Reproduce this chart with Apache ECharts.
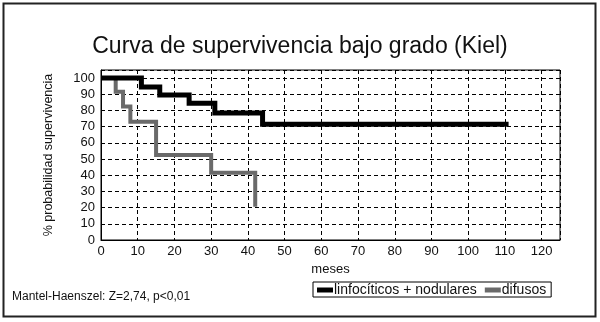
<!DOCTYPE html>
<html>
<head>
<meta charset="utf-8">
<script src="https://cdn.jsdelivr.net/npm/echarts@6/dist/echarts.min.js"></script>
<style>
html,body{margin:0;padding:0;background:#fff;}
#c{width:600px;height:322px;}
</style>
</head>
<body>
<div id="c"></div>
<script>
// Data
const titleText = 'Curva de supervivencia bajo grado (Kiel)';
const xName = 'meses';
const yName = '% probabilidad supervivencia';
const footnote = 'Mantel-Haenszel: Z=2,74, p<0,01';
const seriesNames = ['linfocíticos + nodulares', 'difusos'];

const lnTimes = [0, 11, 16, 24, 31, 44, 111];
const lnSurv  = [100, 94.5, 89.5, 84.5, 78.5, 71.5, 71.5];

const difTimes = [0, 4, 6, 8, 15, 30, 42];
const difSurv  = [100, 91.5, 82.5, 73, 52.5, 41.5, 20.5];

const xTicks = [0,10,20,30,40,50,60,70,80,90,100,110,120];
const yTicks = [0,10,20,30,40,50,60,70,80,90,100];

const toPairs = (t, s) => t.map((v, i) => [v, s[i]]);

const chart = echarts.init(document.getElementById('c'), null, {renderer: 'canvas'});
const font = 'Liberation Sans, Arial, Helvetica, sans-serif';
chart.setOption({
  animation: false,
  backgroundColor: '#fff',
  textStyle: {fontFamily: font},
  title: {
    text: titleText, left: 'center', top: 30,
    textStyle: {fontFamily: font, fontSize: 23, fontWeight: 'normal', color: '#111'}
  },
  grid: {left: 101, right: 40, top: 70, bottom: 82, show: true, borderColor: '#000', borderWidth: 1, backgroundColor: 'transparent'},
  xAxis: {
    type: 'value', min: 0, max: 125, interval: 10,
    name: xName, nameLocation: 'middle', nameGap: 23,
    nameTextStyle: {fontFamily: font, fontSize: 13, color: '#111'},
    axisLine: {show: true, onZero: false, lineStyle: {color: '#000', width: 1}},
    axisTick: {show: false},
    axisLabel: {fontFamily: font, fontSize: 13, color: '#111', margin: 5,
      formatter: v => xTicks.indexOf(v) >= 0 ? String(v) : ''},
    splitLine: {show: true, lineStyle: {color: '#000', width: 1, type: [4, 3]}}
  },
  yAxis: {
    type: 'value', min: 0, max: 105, interval: 10,
    name: yName, nameLocation: 'middle', nameGap: 46, nameRotate: 90,
    nameTextStyle: {fontFamily: font, fontSize: 12.5, color: '#111'},
    axisLine: {show: true, lineStyle: {color: '#000', width: 1}},
    axisTick: {show: false},
    axisLabel: {fontFamily: font, fontSize: 13, color: '#111', margin: 6,
      formatter: v => yTicks.indexOf(v) >= 0 ? String(v) : ''},
    splitLine: {show: true, lineStyle: {color: '#000', width: 1, type: [4, 3]}}
  },
  legend: {
    left: 313, top: 282,
    data: seriesNames,
    itemWidth: 16, itemHeight: 5, itemGap: 8,
    icon: 'rect',
    borderColor: '#000', borderWidth: 1, borderRadius: 0, padding: [1, 5, 0, 4],
    textStyle: {fontFamily: font, fontSize: 14, color: '#111', padding: [0, 0, 0, -4]}
  },
  graphic: [
    {type: 'rect', shape: {x: 3.5, y: 3.5, width: 592, height: 313}, style: {fill: 'none', stroke: '#222', lineWidth: 2}, z: -1},
    {type: 'text', left: 12, top: 291, style: {text: footnote, font: '12px ' + font, fill: '#111'}}
  ],
  series: [
    {
      name: seriesNames[0], type: 'line', step: 'end', showSymbol: false, symbol: 'none',
      data: toPairs(lnTimes, lnSurv),
      lineStyle: {color: '#000', width: 5, cap: 'butt', join: 'miter'},
      itemStyle: {color: '#000'}, z: 3
    },
    {
      name: seriesNames[1], type: 'line', step: 'end', showSymbol: false, symbol: 'none',
      data: toPairs(difTimes, difSurv),
      lineStyle: {color: '#6a6a6a', width: 4, cap: 'butt', join: 'miter'},
      itemStyle: {color: '#6a6a6a'}, z: 2
    }
  ]
});
</script>
</body>
</html>
